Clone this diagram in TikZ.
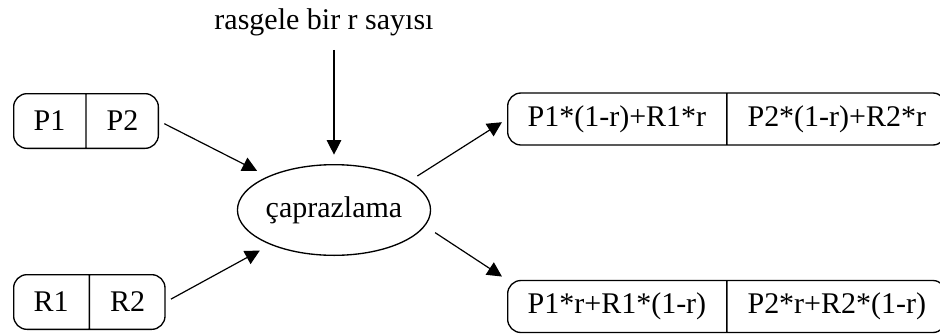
\documentclass[tikz,border=0pt]{standalone}
\usepackage{fontspec}
\setmainfont{Liberation Serif}
\usetikzlibrary{arrows.meta, shapes.geometric, shapes.multipart}

\begin{document}
\begin{tikzpicture}[x=0.75pt, y=-0.75pt, >={Triangle[length=11pt, width=11pt]},
  font=\fontsize{22.5}{26}\selectfont,
  pair/.style={draw, line width=1pt, rounded corners=10pt, rectangle split,
    rectangle split horizontal, rectangle split parts=2, inner xsep=15pt,
    inner ysep=0pt, minimum height=41pt, anchor=west},
  link/.style={->, line width=0.9pt}]
  \useasboundingbox (0,0) rectangle (940,333);
  % input, operator and the two children
  \node[inner sep=0pt] (rnd) at (324,22) {rasgele bir r sayısı};
  \node[draw, ellipse, line width=1pt, inner sep=0pt, minimum width=111pt,
    minimum height=68pt] (cap) at (334,210) {çaprazlama};
  \node[pair] (pbox) at (13,121) {P1\nodepart{two}P2};
  \node[pair] (rbox) at (13,302) {R1\nodepart{two}R2};
  \node[pair, minimum height=39pt] (top) at (507,119)
    {P1*(1-r)+R1*r\nodepart{two}P2*(1-r)+R2*r};
  \node[pair, minimum height=39pt] (bot) at (507,306.5)
    {P1*r+R1*(1-r)\nodepart{two}P2*r+R2*(1-r)};
  % arrows
  \draw[link, shorten <=10.5pt, shorten >=7pt] (rnd.south -| cap.north) -- (cap.north);
  \draw[link, shorten <=4.5pt, shorten >=9pt] (pbox.east) -- (cap);
  \draw[link, shorten <=4.5pt, shorten >=9pt] (rbox.east) -- (cap);
  \draw[link, shorten <=7pt, shorten >=4.5pt] (cap.21) -- (top.west);
  \draw[link, shorten <=9pt, shorten >=4.5pt] (cap.-10) -- (bot.north west);
\end{tikzpicture}
\end{document}
